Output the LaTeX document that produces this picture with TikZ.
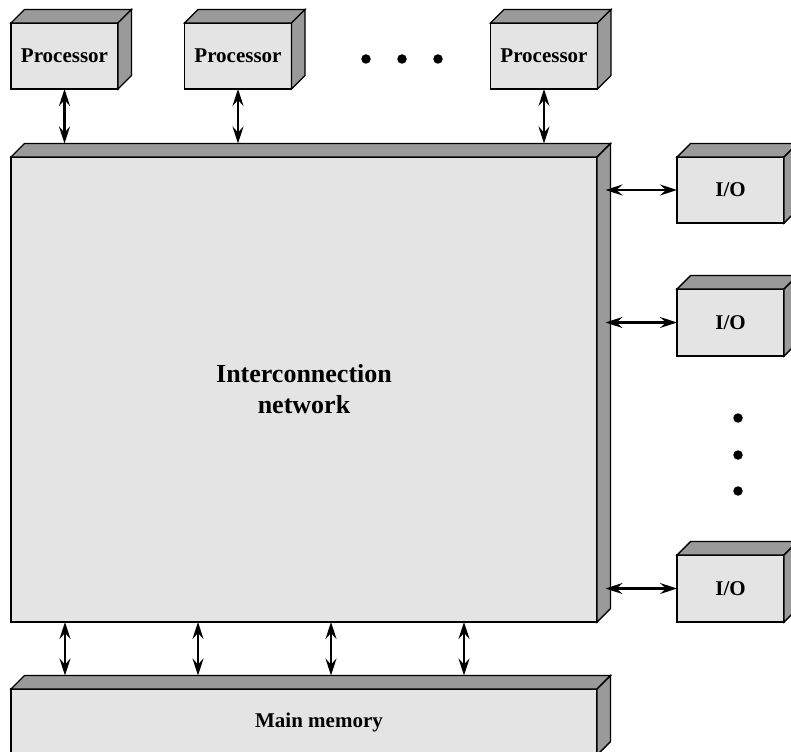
\documentclass[tikz,border=0pt]{standalone}
\usepackage{fontspec}
\setmainfont{Liberation Serif}
\usetikzlibrary{calc,arrows.meta}
\definecolor{frontgray}{HTML}{E4E4E4}
\definecolor{sidegray}{HTML}{9A9A9A}
\newcommand\threedfaces[1]{%
  \filldraw[sideface] (#1.north west) -- ++(13.5,-13.5) -- ($(#1.north east)+(13.5,-13.5)$) -- (#1.north east) -- cycle;
  \filldraw[sideface] (#1.north east) -- ++(13.5,-13.5) -- ($(#1.south east)+(13.5,-13.5)$) -- (#1.south east) -- cycle;}
\begin{document}
\begin{tikzpicture}[x=1pt,y=-1pt,
  frontbox/.style={draw=black,line width=1.4pt,fill=frontgray,rectangle,outer sep=0pt,inner sep=0pt,
     font=\fontsize{21}{25}\selectfont\bfseries},
  sideface/.style={draw=black,line width=1.4pt,fill=sidegray,line join=miter},
  tipshape/.style={},
  arr/.style={line width=2.4pt,{Stealth[length=17pt,width=11pt,inset=6pt]}-{Stealth[length=17pt,width=11pt,inset=6pt]}},
  dot/.style={fill=black,circle,inner sep=0pt,minimum size=9.5pt}]
\useasboundingbox (0,0) rectangle (791,751);
\begin{scope}
\clip (0,0) rectangle (791,751);
% processors
\node[frontbox,minimum width=107pt,minimum height=66pt] (p1) at (64.5,56) {Processor};
\threedfaces{p1}
\node[frontbox,minimum width=107pt,minimum height=66pt] (p2) at (238,56) {Processor};
\threedfaces{p2}
\node[frontbox,minimum width=107pt,minimum height=66pt] (p3) at (544,56) {Processor};
\threedfaces{p3}
% interconnection network
\node[frontbox,minimum width=586pt,minimum height=465pt,align=center,
      font=\fontsize{26}{31}\selectfont\bfseries] (net) at (304,389.5) {Interconnection\\network};
\threedfaces{net}
% I/O
\node[frontbox,minimum width=107pt,minimum height=66pt] (io1) at (730.5,190) {I/O};
\threedfaces{io1}
\node[frontbox,minimum width=107pt,minimum height=67pt] (io2) at (730.5,322.5) {I/O};
\threedfaces{io2}
\node[frontbox,minimum width=107pt,minimum height=67pt] (io3) at (730.5,588.5) {I/O};
\threedfaces{io3}
% main memory
\node[frontbox,minimum width=586pt,minimum height=66pt] (mem) at (304,722) {};
\threedfaces{mem}
\node[font=\fontsize{21}{25}\selectfont\bfseries] (memlabel) at (319,722) {Main memory};
% coordinates
\coordinate (nettop) at ($(net.north)+(0,-13.5)$);
\coordinate (memtop) at ($(mem.north)+(0,-13.5)$);
\coordinate (b1) at ($(net.south west)+(54,0)$);
\coordinate (b2) at ($(net.south west)+(187,0)$);
\coordinate (b3) at ($(net.south west)+(320,0)$);
\coordinate (b4) at ($(net.south west)+(453,0)$);
\coordinate (s1) at ($(net.east |- io1.west)+(8.5,0)$);
\coordinate (s2) at ($(net.east |- io2.west)+(8.5,0)$);
\coordinate (s3) at ($(net.east |- io3.west)+(8.5,0)$);
% connectors
\draw[arr] (p1.south) -- (p1.south |- nettop);
\draw[arr] (p2.south) -- (p2.south |- nettop);
\draw[arr] (p3.south) -- (p3.south |- nettop);
\draw[arr] (s1) -- (io1.west);
\draw[arr] (s2) -- (io2.west);
\draw[arr] (s3) -- (io3.west);
\draw[arr] (b1) -- (b1 |- memtop);
\draw[arr] (b2) -- (b2 |- memtop);
\draw[arr] (b3) -- (b3 |- memtop);
\draw[arr] (b4) -- (b4 |- memtop);
% dots
\node[dot] (d1) at (366,59) {};
\node[dot] (d2) at (402,59) {};
\node[dot] (d3) at (438,59) {};
\node[dot] (d4) at (738,418) {};
\node[dot] (d5) at (738,455) {};
\node[dot] (d6) at (738,491) {};
\end{scope}
\end{tikzpicture}
\end{document}
